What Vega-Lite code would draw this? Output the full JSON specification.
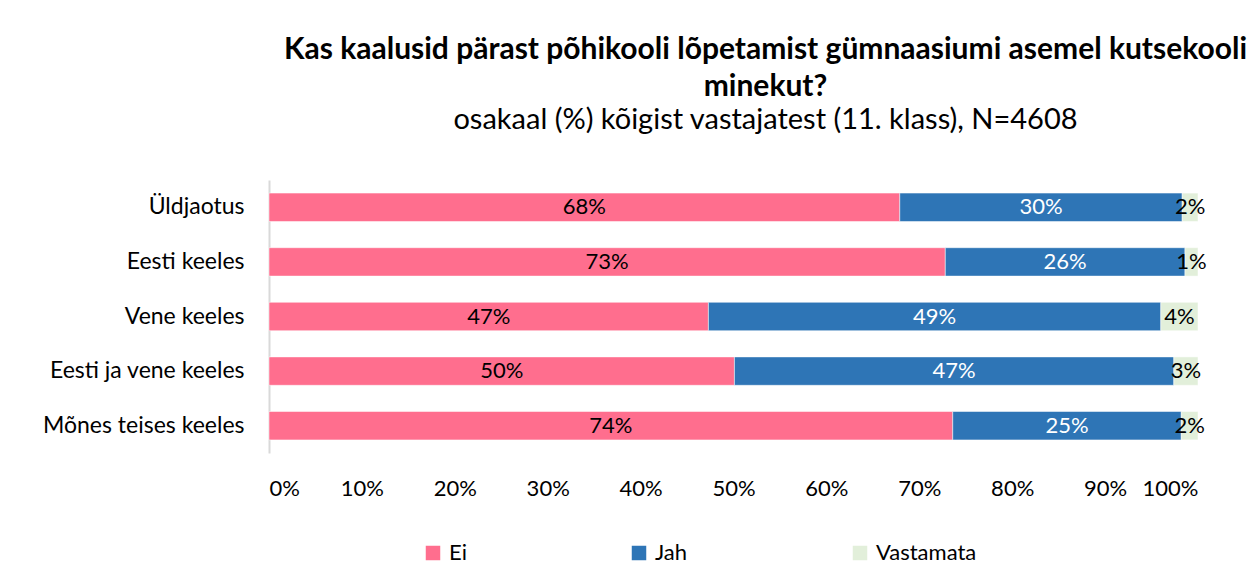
{
  "$schema": "https://vega.github.io/schema/vega-lite/v6.json",
  "autosize": {"type": "none"},
  "padding": {"left": 269, "top": 180, "right": 52, "bottom": 124},
  "width": 929,
  "height": 273,
  "background": "white",
  "title": {
    "text": ["Kas kaalusid pärast põhikooli lõpetamist gümnaasiumi asemel kutsekooli", "minekut?"],
    "subtitle": "osakaal (%) kõigist vastajatest (11. klass), N=4608",
    "anchor": "middle",
    "frame": "group",
    "dx": 32,
    "font": "Lato",
    "fontSize": 30,
    "fontWeight": "bold",
    "lineHeight": 37,
    "color": "black",
    "subtitleFont": "Lato",
    "subtitleFontSize": 29,
    "subtitleColor": "black",
    "subtitlePadding": 4,
    "offset": 45
  },
  "data": {
    "values": [
      {"group": "Üldjaotus", "series": "Ei", "value": 0.679},
      {"group": "Üldjaotus", "series": "Jah", "value": 0.304},
      {"group": "Üldjaotus", "series": "Vastamata", "value": 0.017},
      {"group": "Eesti keeles", "series": "Ei", "value": 0.728},
      {"group": "Eesti keeles", "series": "Jah", "value": 0.258},
      {"group": "Eesti keeles", "series": "Vastamata", "value": 0.014},
      {"group": "Vene keeles", "series": "Ei", "value": 0.473},
      {"group": "Vene keeles", "series": "Jah", "value": 0.487},
      {"group": "Vene keeles", "series": "Vastamata", "value": 0.04},
      {"group": "Eesti ja vene keeles", "series": "Ei", "value": 0.501},
      {"group": "Eesti ja vene keeles", "series": "Jah", "value": 0.473},
      {"group": "Eesti ja vene keeles", "series": "Vastamata", "value": 0.026},
      {"group": "Mõnes teises keeles", "series": "Ei", "value": 0.736},
      {"group": "Mõnes teises keeles", "series": "Jah", "value": 0.246},
      {"group": "Mõnes teises keeles", "series": "Vastamata", "value": 0.018}
    ]
  },
  "transform": [
    {"stack": "value", "groupby": ["group"], "sort": [{"field": "series", "order": "ascending"}], "offset": "normalize", "as": ["v0", "v1"]}
  ],
  "encoding": {
    "y": {
      "field": "group",
      "type": "nominal",
      "sort": ["Üldjaotus", "Eesti keeles", "Vene keeles", "Eesti ja vene keeles", "Mõnes teises keeles"],
      "title": null,
      "scale": {"paddingInner": 0.48, "paddingOuter": 0.24},
      "axis": {
        "domain": true,
        "domainColor": "#d9d9d9",
        "domainWidth": 2,
        "ticks": false,
        "labelFont": "Lato",
        "labelFontSize": 23,
        "labelColor": "black",
        "labelPadding": 25,
        "labelLimit": 300
      }
    }
  },
  "layer": [
    {
      "mark": {"type": "bar", "stroke": "white", "strokeWidth": 0.5},
      "encoding": {
        "x": {
          "field": "v0",
          "type": "quantitative",
          "scale": {"domain": [0, 1]},
          "title": null,
          "axis": {
            "format": ".0%",
            "values": [0, 0.1, 0.2, 0.3, 0.4, 0.5, 0.6, 0.7, 0.8, 0.9, 1],
            "domain": false,
            "ticks": false,
            "grid": false,
            "labelFont": "Lato",
            "labelFontSize": 22,
            "labelColor": "black",
            "labelPadding": 25
          }
        },
        "x2": {"field": "v1"},
        "color": {
          "field": "series",
          "type": "nominal",
          "scale": {"domain": ["Ei", "Jah", "Vastamata"], "range": ["#FF6E8E", "#2E75B6", "#E2EFDA"]},
          "legend": {
            "title": null,
            "orient": "none",
            "legendX": 153,
            "legendY": 362,
            "direction": "horizontal",
            "columns": 3,
            "columnPadding": 161,
            "symbolType": "square",
            "symbolSize": 210,
            "symbolStrokeWidth": 0,
            "labelFont": "Lato",
            "labelFontSize": 22,
            "labelColor": "black",
            "labelOffset": 5
          }
        }
      }
    },
    {
      "transform": [
        {"fold": ["v0", "v1"], "as": ["edge", "pos"]},
        {"aggregate": [{"op": "mean", "field": "pos", "as": "mid"}], "groupby": ["group", "series", "value"]}
      ],
      "mark": {"type": "text", "font": "Lato", "fontSize": 22, "align": "center", "baseline": "middle"},
      "encoding": {
        "x": {"field": "mid", "type": "quantitative"},
        "text": {"field": "value", "type": "quantitative", "format": ".0%"},
        "color": {
          "condition": {"test": "datum.series === 'Jah'", "value": "white"},
          "value": "black"
        }
      }
    }
  ],
  "config": {"view": {"stroke": null}}
}
